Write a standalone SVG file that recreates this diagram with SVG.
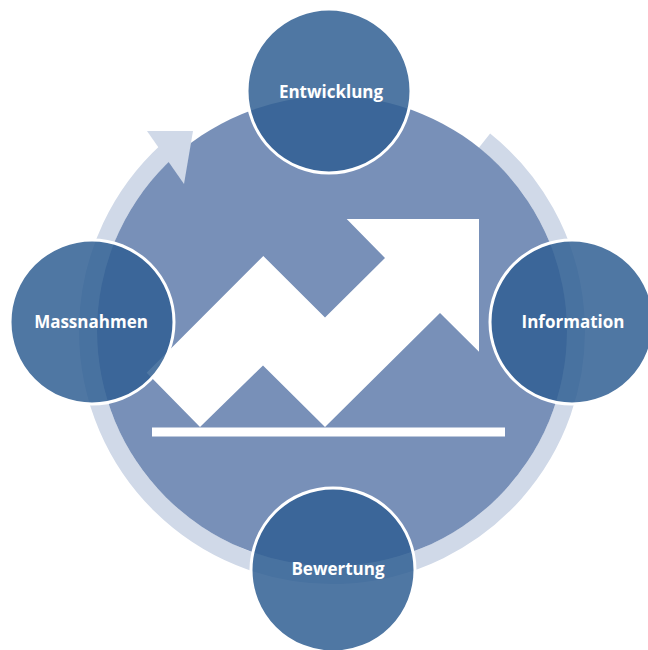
<svg xmlns="http://www.w3.org/2000/svg" width="648" height="650" viewBox="0 0 648 650">
<style>
.node circle{fill:#305f93;fill-opacity:0.85;stroke:#ffffff;stroke-width:3}
.node text{fill:#ffffff;font-family:"Open Sans","Liberation Sans",sans-serif;font-weight:bold;font-size:17px;text-anchor:middle}
.ring{fill:none;stroke:#d0d9e8;stroke-width:18}
</style>
<rect width="648" height="650" fill="#ffffff"/>
<g id="connectors">
<path class="ring" d="M484.5,140.6 A244,244 0 1 1 167.2,151.1"/>
</g>
<circle id="hub" cx="332" cy="331" r="235" fill="#7890b8"/>
<polygon id="ring-arrowhead" points="147,131 193,131 184,184" fill="#d0d9e8"/>
<g id="growth-arrow" fill="#ffffff">
<polygon points="146.7,372.7 263.3,256 325,317.5 385,258 346.7,219 479,219 479,351.7 440,313 325,427 263,365.5 200,427"/>
<rect x="152" y="427.5" width="353" height="9"/>
</g>
<g id="node-entwicklung" class="node">
<circle cx="329" cy="91" r="82"/>
<text x="331" y="98">Entwicklung</text>
</g>
<g id="node-information" class="node">
<circle cx="572" cy="322" r="82"/>
<text x="573" y="328">Information</text>
</g>
<g id="node-bewertung" class="node">
<circle cx="333" cy="570" r="82"/>
<text x="338" y="575">Bewertung</text>
</g>
<g id="node-massnahmen" class="node">
<circle cx="92" cy="322" r="82"/>
<text x="91" y="328">Massnahmen</text>
</g>
</svg>
